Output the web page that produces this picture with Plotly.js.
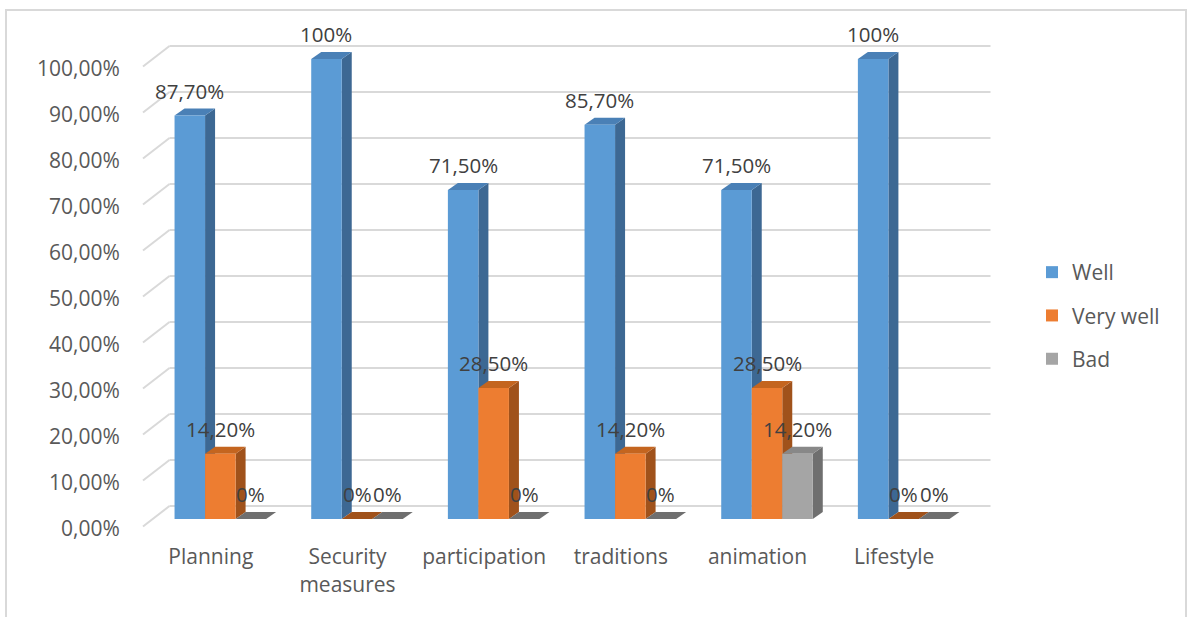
<!DOCTYPE html>
<html>
<head>
<meta charset="utf-8">
<script src="https://cdn.plot.ly/plotly-3.0.1.min.js"></script>
<style>html,body{margin:0;padding:0;background:#fff;}#chart{width:1190px;height:617px;}</style>
</head>
<body>
<div id="chart"></div>
<script>
// ---- data ----
const categories = ['Planning', 'Security<br>measures', 'participation', 'traditions', 'animation', 'Lifestyle'];
const seriesNames = ['Well', 'Very well', 'Bad'];
const well = [87.7, 100, 71.5, 85.7, 71.5, 100];
const veryWell = [14.2, 0, 28.5, 14.2, 28.5, 0];
const bad = [0, 0, 0, 0, 14.2, 0];
const yTickValues = [0, 10, 20, 30, 40, 50, 60, 70, 80, 90, 100];
const yTickLabels = ['0,00%', '10,00%', '20,00%', '30,00%', '40,00%', '50,00%', '60,00%', '70,00%', '80,00%', '90,00%', '100,00%'];

// ---- styling / geometry ----
const W = 1190, H = 617;
const plotL = 152, plotR = 972, plotT = 15, plotB = 534;
const zeroPx = 519, hundredPx = 59;
const pxPerUnit = (zeroPx - hundredPx) / 100;
const yMin = -(plotB - zeroPx) / pxPerUnit;
const yMax = (zeroPx - plotT) / pxPerUnit;
const nCat = categories.length;
const catPx = (plotR - plotL) / nCat;
const depthDxPx = 10, depthDyPx = 7;         // bar depth
const dxU = depthDxPx / catPx, dyU = depthDyPx / pxPerUnit;
const frontShiftY = -7 / pxPerUnit;           // front plane relative to bar plane
const labelShiftY = -10 / pxPerUnit;          // tick label centre relative to bar plane
const backShiftY = 13 / pxPerUnit;            // back wall relative to bar plane
const backShiftXPx = 17.5, frontShiftXPx = -9.5;
const barW = (1 - 0.33) / 3;
const offsets = [-barW * 1.5, -barW * 0.5, barW * 0.5];
const front = ['#5B9BD5', '#ED7D31', '#A5A5A5'];
const topC = ['#4A80B6', '#C4651F', '#888888'];
const sideC = ['#3D6893', '#A0521B', '#6F6F6F'];
const gridColor = '#D9D9D9';
const font = 'Open Sans, Noto Sans, sans-serif';

const seriesValues = [well, veryWell, bad];
const xIdx = categories.map((c, i) => i);
const px2paperX = p => (p - plotL) / (plotR - plotL);
const px2paperY = p => (plotB - p) / (plotB - plotT);

function fmt(v) {
  return Number.isInteger(v) ? v + '%' : v.toFixed(2).replace('.', ',') + '%';
}

const traces = seriesValues.map((vals, k) => ({
  type: 'bar',
  name: seriesNames[k],
  legendgroup: 'g' + k,
  x: xIdx,
  y: vals,
  width: barW,
  offset: offsets[k],
  marker: { color: front[k], line: { width: 0 } },
  hoverinfo: 'skip'
}));

const shapes = [];
// back wall gridlines and front diagonals
yTickValues.forEach(v => {
  shapes.push({
    type: 'line', layer: 'below', xref: 'paper', yref: 'y',
    x0: px2paperX(plotL + backShiftXPx), x1: px2paperX(plotR + backShiftXPx + 1),
    y0: v + backShiftY, y1: v + backShiftY,
    line: { color: gridColor, width: 2 }
  });
  shapes.push({
    type: 'line', layer: 'below', xref: 'paper', yref: 'y',
    x0: px2paperX(143), x1: px2paperX(plotL + backShiftXPx),
    y0: v + frontShiftY - 0.1, y1: v + backShiftY,
    line: { color: gridColor, width: 2 }
  });
});
// 3D faces of bars
seriesValues.forEach((vals, k) => {
  vals.forEach((v, i) => {
    const xl = i + offsets[k], xr = xl + barW;
    if (v > 0) {
      shapes.push({
        type: 'path', layer: 'below', xref: 'x', yref: 'y',
        path: `M${xr},0 L${xr + dxU},${dyU} L${xr + dxU},${v + dyU} L${xr},${v} Z`,
        fillcolor: sideC[k], line: { width: 0 }
      });
    }
    shapes.push({
      type: 'path', layer: 'below', xref: 'x', yref: 'y',
      path: `M${xl},${v} L${xl + dxU},${v + dyU} L${xr + dxU},${v + dyU} L${xr},${v} Z`,
      fillcolor: v > 0 ? topC[k] : sideC[k], line: { width: 0 }
    });
  });
});
// outer frame
shapes.push({
  type: 'rect', xref: 'paper', yref: 'paper', layer: 'below',
  x0: px2paperX(6), x1: px2paperX(1186), y0: px2paperY(660), y1: px2paperY(10),
  line: { color: '#D9D9D9', width: 2 }, fillcolor: 'rgba(0,0,0,0)'
});

const annotations = [];
seriesValues.forEach((vals, k) => {
  vals.forEach((v, i) => {
    annotations.push({
      x: i + offsets[k] + barW / 2, y: v, xref: 'x', yref: 'y',
      text: fmt(v), showarrow: false, yshift: 25, yanchor: 'middle',
      font: { family: font, size: 20.5, color: '#404040' }
    });
  });
});

const layout = {
  width: W, height: H,
  margin: { l: plotL, r: W - plotR, t: plotT, b: H - plotB },
  paper_bgcolor: '#ffffff', plot_bgcolor: 'rgba(0,0,0,0)',
  barmode: 'overlay',
  showlegend: true,
  legend: {
    x: px2paperX(1032), xanchor: 'left', y: px2paperY(252), yanchor: 'top',
    font: { family: font, size: 21, color: '#595959' },
    tracegroupgap: 13, traceorder: 'grouped', bgcolor: 'rgba(0,0,0,0)'
  },
  xaxis: {
    range: [-0.5, nCat - 0.5], type: 'linear',
    tickvals: xIdx.map(i => i + frontShiftXPx / catPx), ticktext: categories,
    ticks: 'outside', ticklen: 4, tickcolor: 'rgba(0,0,0,0)',
    showgrid: false, zeroline: false, showline: false, fixedrange: true,
    tickfont: { family: font, size: 21, color: '#595959' }
  },
  yaxis: {
    range: [yMin, yMax],
    tickvals: yTickValues.map(v => v + labelShiftY), ticktext: yTickLabels,
    ticks: 'outside', ticklen: 27, tickcolor: 'rgba(0,0,0,0)',
    showgrid: false, zeroline: false, showline: false, fixedrange: true,
    tickfont: { family: font, size: 21, color: '#595959' }
  },
  shapes: shapes,
  annotations: annotations
};

Plotly.newPlot('chart', traces, layout, { displayModeBar: false, staticPlot: true });
</script>
</body>
</html>
